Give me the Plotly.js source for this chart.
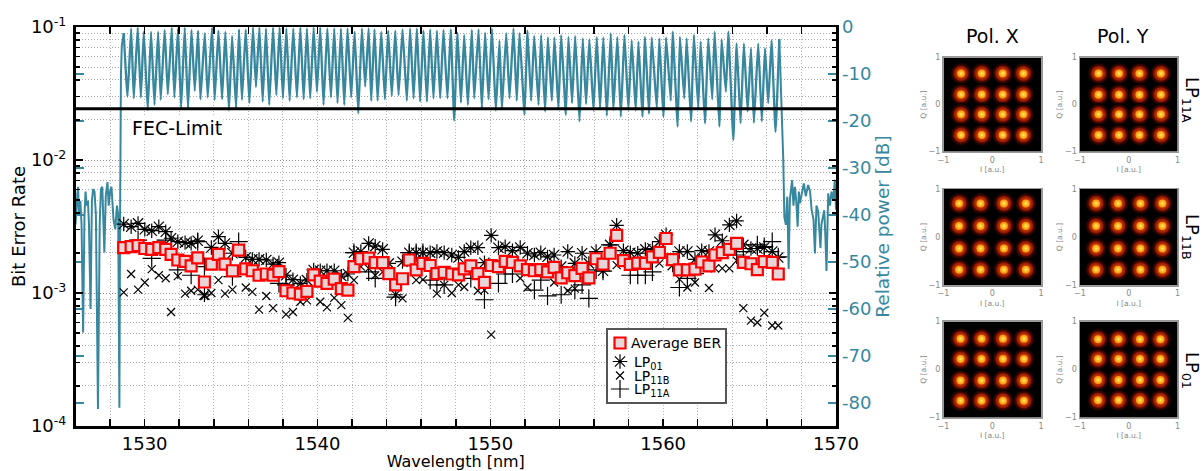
<!DOCTYPE html>
<html><head><meta charset="utf-8">
<script src="https://cdn.plot.ly/plotly-3.0.1.min.js"></script>
<style>html,body{margin:0;padding:0;background:#fff}</style></head>
<body><div id="chart" style="width:1204px;height:471px"></div>
<script>
const noiseLeftWl=[1526.0,1526.05,1526.1,1526.15,1526.2,1526.28,1526.35,1526.44,1526.52,1526.58,1526.65,1526.72,1526.78,1526.87,1526.95,1527.02,1527.1,1527.18,1527.3,1527.4,1527.47,1527.55,1527.67,1527.75,1527.85,1527.92,1528.0,1528.08,1528.2,1528.3,1528.4,1528.47,1528.54,1528.58,1528.6,1528.63,1528.68,1528.79];
const noiseLeftDb=[-42,-38,-36,-34,-40,-37,-42,-65,-40,-35,-38,-37,-42,-60,-37,-34.5,-35,-40,-81.3,-42,-34.5,-34,-48,-36,-33,-38,-35,-34,-41,-43,-38,-40,-81,-40,-20,-10,-4,-1.3];
const combWl=[1528.79,1529.01,1529.22,1529.37,1529.60,1529.78,1529.95,1530.18,1530.37,1530.57,1530.78,1530.93,1531.16,1531.34,1531.57,1531.72,1531.93,1532.11,1532.32,1532.51,1532.71,1532.90,1533.09,1533.23,1533.48,1533.65,1533.90,1534.05,1534.27,1534.48,1534.67,1534.88,1535.06,1535.29,1535.46,1535.63,1535.85,1536.06,1536.27,1536.44,1536.64,1536.83,1537.02,1537.21,1537.43,1537.62,1537.81,1538.00,1538.20,1538.39,1538.60,1538.81,1539.01,1539.20,1539.39,1539.58,1539.78,1539.97,1540.16,1540.35,1540.57,1540.78,1540.97,1541.16,1541.36,1541.55,1541.74,1541.95,1542.15,1542.36,1542.57,1542.76,1542.96,1543.11,1543.30,1543.48,1543.69,1543.90,1544.09,1544.30,1544.50,1544.69,1544.92,1545.17,1545.36,1545.56,1545.75,1545.94,1546.13,1546.33,1546.52,1546.71,1546.91,1547.10,1547.29,1547.52,1547.71,1547.91,
1548.10,1548.30,1548.49,1548.70,1548.93,1549.07,1549.32,1549.51,1549.70,1549.90,1550.09,1550.32,1550.53,1550.67,1550.92,1551.11,1551.34,1551.53,1551.69,1551.98,1552.15,1552.36,1552.54,1552.79,1552.94,1553.17,1553.33,1553.56,1553.71,1553.94,1554.10,1554.37,1554.52,1554.73,1554.91,1555.16,1555.35,1555.54,1555.73,1555.97,1556.16,1556.35,1556.54,1556.74,1556.97,1557.12,1557.35,1557.55,1557.76,1557.99,1558.18,1558.41,1558.57,1558.80,1558.95,1559.18,1559.34,1559.63,1559.78,1560.01,1560.17,1560.44,1560.55,1560.84,1560.97,1561.22,1561.36,1561.61,1561.78,1562.03,1562.17,1562.42,1562.61,1562.84,1562.98,1563.25,1563.38,1563.63,1563.77,1564.06,1564.25,1564.48,1564.67,1564.89,1565.08,1565.25,1565.50,1565.71,1565.89,1566.08,1566.27,1566.50,1566.72];
const combDb=[-1.3,-14.8,-0.3,-15.2,-0.1,-15.0,-1.0,-17.7,-1.0,-16.6,-1.0,-15.5,-0.6,-14.3,-0.1,-15.0,-0.3,-17.4,-0.1,-17.4,-0.6,-13.6,-0.8,-15.4,-1.3,-15.0,-0.1,-15.5,-0.8,-15.4,-1.0,-17.8,-1.9,-17.3,-0.5,-15.5,-0.5,-16.2,-0.1,-12.8,-0.1,-15.9,-0.3,-16.6,-0.1,-14.5,-0.1,-15.2,-0.3,-15.7,-0.3,-15.0,-0.1,-15.4,-0.3,-15.2,-0.1,-13.8,-0.1,-16.6,-0.3,-15.0,-0.3,-16.2,-0.3,-16.6,-0.3,-15.0,-1.0,-18.4,-0.3,-12.7,-0.3,-15.7,-0.5,-15.7,-1.0,-15.4,-0.8,-14.7,-0.8,-14.5,-0.5,-15.7,-0.3,-15.2,-0.3,-15.9,-0.8,-15.9,-0.5,-15.2,-0.8,-15.2,-0.6,-15.2,-0.5,-19.9,
-1.2,-16.1,-1.7,-16.6,-0.6,-15.2,-0.5,-17.3,-1.2,-15.4,-0.3,-17.8,-2.9,-17.5,-1.3,-15.2,-0.3,-15.7,-1.3,-18.7,-0.8,-15.7,-1.9,-16.6,-1.7,-18.0,-2.2,-15.7,-2.2,-17.5,-1.7,-18.7,-2.1,-16.2,-1.9,-20.1,-2.4,-16.4,-2.6,-17.8,-2.1,-17.3,-2.2,-18.9,-1.3,-17.7,-2.1,-19.1,-1.7,-17.7,-2.8,-17.8,-3.1,-19.1,-2.1,-18.5,-2.2,-17.3,-2.4,-19.1,-2.2,-15.7,-1.0,-21.2,-2.1,-15.2,-2.4,-20.1,-1.7,-17.3,-3.1,-20.5,-2.4,-15.4,-1.0,-21.2,-2.6,-13.8,-1.0,-24.0,-3.5,-20.5,-3.5,-18.0,-4.5,-20.4,-3.5,-20.1,-4.5,-16.2,-2.8,-22.3,-2.6];
const noiseRightWl=[1566.72,1566.85,1566.95,1567.01,1567.10,1567.18,1567.26,1567.33,1567.46,1567.54,1567.62,1567.7,1567.78,1567.85,1567.91,1568.02,1568.14,1568.25,1568.39,1568.5,1568.59,1568.7,1568.78,1568.87,1568.97,1569.05,1569.1,1569.16,1569.32,1569.38,1569.45,1569.55,1569.65,1569.74,1569.85,1569.93,1570.0];
const noiseRightDb=[-2.6,-17.7,-28.3,-40.4,-42.1,-36.1,-51.5,-36.8,-32.6,-38,-34,-37,-42.5,-35,-37.5,-35.5,-33.3,-36,-33.6,-35,-38.9,-41,-48.2,-38,-39.3,-44,-47,-42,-39,-44,-51.9,-35.4,-38,-35,-37,-32.5,-38.9];
const berWl=[1528.79,1529.22,1529.62,1530.01,1530.41,1530.82,1531.22,1531.53,1531.92,1532.34,1532.69,1533.07,1533.46,1533.86,1534.27,1534.65,1535.08,1535.44,1535.85,1536.23,1536.62,1537.04,1537.43,1537.77,1538.18,1538.58,1539.01,1539.39,1539.78,1540.16,1540.55,1540.97,1541.38,1541.76,1542.11,1542.51,1542.96,1543.34,1543.77,1544.13,1544.52,1544.92,1545.31,1545.71,1546.10,1546.52,1546.91,1547.33,1547.77,1548.16,
1548.49,1548.87,1549.28,1549.66,1550.05,1550.47,1550.86,1551.28,1551.73,1552.15,1552.55,1552.92,1553.31,1553.69,1554.10,1554.48,1554.89,1555.31,1555.70,1556.12,1556.52,1556.93,1557.31,1557.70,1558.10,1558.53,1558.97,1559.38,1559.78,1560.17,1560.55,1560.94,1561.40,1561.84,1562.23,1562.65,1563.00,1563.42,1563.83,1564.25,1564.64,1565.08,1565.45,1565.85,1566.31,1566.66];
const berAvg=[2.19,2.23,2.27,2.16,2.13,2.19,2.13,1.95,1.77,1.73,1.60,1.84,1.21,1.65,1.95,1.65,1.47,2.10,1.52,1.47,1.36,1.39,1.36,1.45,1.04,1.00,0.98,1.03,1.37,1.23,1.18,1.27,1.08,1.05,1.58,1.81,1.83,1.69,1.69,1.40,1.15,1.28,1.77,1.49,1.67,1.61,1.40,1.43,1.39,1.37,
1.52,1.60,1.40,1.20,1.61,1.58,1.73,1.70,1.60,1.50,1.47,1.50,1.44,1.56,1.30,1.42,1.35,1.53,1.30,1.81,1.65,1.99,2.71,1.75,1.64,1.68,1.67,1.87,2.02,2.57,1.78,1.49,1.49,1.51,1.71,1.60,1.93,2.01,2.13,2.36,1.70,1.66,1.50,1.72,1.70,1.39];
const berLP01=[3.30,3.15,3.34,3.01,2.94,3.15,2.89,2.58,2.43,2.39,2.36,2.47,0.97,2.20,2.65,2.36,1.99,2.10,1.85,1.79,1.79,1.77,1.65,1.69,1.36,1.26,1.18,1.25,1.49,1.47,1.47,1.47,1.34,1.39,2.01,2.05,2.36,2.25,2.13,1.67,0.97,1.72,2.01,2.01,2.01,2.01,2.05,2.01,1.93,1.85,
2.05,2.19,2.19,1.69,2.71,2.19,2.23,2.08,2.20,1.99,1.93,2.01,1.87,1.93,1.58,2.05,1.67,1.99,1.67,2.05,1.47,2.30,3.23,2.08,2.01,1.99,2.13,2.16,2.43,2.74,1.62,2.05,2.05,1.79,2.08,2.05,2.74,2.47,3.25,3.48,2.30,2.16,2.16,2.20,2.05,1.85];
const berLP11B=[1.01,1.39,1.06,1.20,1.51,1.36,1.29,0.72,1.34,0.99,1.04,1.06,0.95,1.00,1.25,0.99,1.06,null,1.10,1.02,0.75,0.95,0.77,null,0.69,0.72,0.86,0.88,null,0.86,0.78,0.92,0.81,0.65,1.25,1.58,1.53,1.36,1.44,null,null,0.91,null,1.25,1.26,null,0.99,1.15,1.00,1.15,
1.11,null,1.04,1.05,0.486,1.62,null,null,1.29,1.10,null,null,null,1.20,null,1.04,1.08,null,null,null,null,null,1.62,null,null,null,null,null,1.67,null,null,1.27,1.10,1.20,null,1.09,1.53,1.53,1.53,1.75,0.77,0.62,0.60,0.71,0.57,0.57];
const berLP11A=[null,null,2.50,null,1.82,null,2.50,null,1.49,null,1.36,2.43,1.58,null,null,null,1.33,2.43,null,null,null,null,null,1.18,1.15,null,null,null,null,null,null,null,null,null,2.01,null,1.44,1.29,null,null,0.93,null,2.01,2.01,2.01,1.25,1.15,1.15,null,null,
null,1.29,null,0.89,null,1.18,1.39,1.39,null,null,1.05,1.25,0.95,null,0.97,null,1.05,1.15,0.91,1.49,1.46,2.30,null,null,1.36,1.36,1.36,1.44,null,null,null,1.10,1.29,1.40,null,null,null,null,null,1.93,2.05,null,2.30,2.23,2.43,1.87];
const fecLimit=[0.0243,0.0243];
const fecWl=[1526,1570];
const wlTicks=[1526,1528,1530,1532,1534,1536,1538,1540,1542,1544,1546,1548,1550,1552,1554,1556,1558,1560,1562,1564,1566,1568,1570];
const wlLabels=['','','1530','','','','','1540','','','','','1550','','','','','1560','','','','','1570'];
const berTicks=[1e-4,1e-3,1e-2,1e-1];
const berLabels=['10<sup>-4</sup>','10<sup>-3</sup>','10<sup>-2</sup>','10<sup>-1</sup>'];
const berMinor=[2e-4,3e-4,4e-4,5e-4,6e-4,7e-4,8e-4,9e-4,2e-3,3e-3,4e-3,5e-3,6e-3,7e-3,8e-3,9e-3,2e-2,3e-2,4e-2,5e-2,6e-2,7e-2,8e-2,9e-2];
const powerTicks=[0,-10,-20,-30,-40,-50,-60,-70,-80];
const powerLabels=['0','-10','-20','-30','-40','-50','-60','-70','-80'];
const panelI=[[-0.64,-0.215,0.215,0.64],[-0.62,-0.2,0.22,0.66],[-0.68,-0.24,0.24,0.69],[-0.67,-0.22,0.24,0.69],[-0.65,-0.22,0.22,0.65],[-0.63,-0.21,0.23,0.65]];
const panelQ=[[0.66,0.215,-0.21,-0.65],[0.66,0.21,-0.21,-0.65],[0.7,0.23,-0.24,-0.68],[0.7,0.23,-0.24,-0.68],[0.64,0.22,-0.23,-0.65],[0.63,0.22,-0.22,-0.64]];
const panelNames=['Pol. X','Pol. Y'];
const rowNames=['LP<sub>11A</sub>','LP<sub>11B</sub>','LP<sub>01</sub>'];

const W=1204,H=471;
const teal='#37879f';
const px=(a,b)=>[a/W,b/W], py=(t,b)=>[1-b/H,1-t/H];
const scale=berArr=>berArr.map(v=>v===null?null:v*1e-3);

const traces=[
 {x:noiseLeftWl,y:noiseLeftDb,xaxis:'x',yaxis:'y',mode:'lines',line:{color:teal,width:2},showlegend:false,hoverinfo:'skip'},
 {x:combWl,y:combDb,xaxis:'x',yaxis:'y',mode:'lines',line:{color:teal,width:2.3,shape:'spline',smoothing:0.35},showlegend:false,hoverinfo:'skip'},
 {x:noiseRightWl,y:noiseRightDb,xaxis:'x',yaxis:'y',mode:'lines',line:{color:teal,width:2},showlegend:false,hoverinfo:'skip'},
 {x:fecWl,y:fecLimit,xaxis:'x',yaxis:'y2',mode:'lines',line:{color:'#000',width:3},showlegend:false,hoverinfo:'skip'},
 {x:berWl,y:scale(berLP11A),xaxis:'x',yaxis:'y2',mode:'markers',name:'LP<sub>11A</sub>',legendrank:4,
  marker:{symbol:'cross-thin-open',size:13,color:'#000',line:{color:'#000',width:1.2}}},
 {x:berWl,y:scale(berLP11B),xaxis:'x',yaxis:'y2',mode:'markers',name:'LP<sub>11B</sub>',legendrank:3,
  marker:{symbol:'x-thin-open',size:8,color:'#000',line:{color:'#000',width:1.2}}},
 {x:berWl,y:scale(berLP01),xaxis:'x',yaxis:'y2',mode:'markers',name:'LP<sub>01</sub>',legendrank:2,
  marker:{symbol:'asterisk-open',size:12,color:'#000',line:{color:'#000',width:1.2}}},
 {x:berWl,y:scale(berAvg),xaxis:'x',yaxis:'y2',mode:'markers',name:'Average BER',legendrank:1,
  marker:{symbol:'square',size:11,color:'#e8d5d8',line:{color:'#ff0000',width:2.2}}}
];

const layout={
 width:W,height:H,margin:{l:0,r:0,t:0,b:0},paper_bgcolor:'#fff',plot_bgcolor:'#fff',
 font:{family:'DejaVu Sans',color:'#000'},
 xaxis:{domain:px(75.5,836),range:[1526,1570],tickmode:'array',tickvals:wlTicks,ticktext:wlLabels,ticks:'inside',ticklen:7,tickwidth:1.5,tickcolor:'#000',
  showline:true,linecolor:'#000',linewidth:2.5,mirror:'ticks',showgrid:true,gridcolor:'#b5b5b5',griddash:'1px,2px',gridwidth:1,zeroline:false,tickangle:0,
  tickfont:{size:18},title:{text:'Wavelength [nm]',font:{size:16},standoff:2}},
 yaxis:{domain:py(27,426),range:[-84.9,0],side:'right',anchor:'x',tickmode:'array',tickvals:powerTicks,ticktext:powerLabels,ticks:'inside',ticklen:8,tickwidth:1.5,tickcolor:teal,
  showline:true,linecolor:'#000',linewidth:2.5,mirror:'ticks',showgrid:false,zeroline:false,tickfont:{size:18,color:teal},
  title:{text:'Relative power [dB]',font:{size:18.5,color:teal},standoff:4}},
 yaxis2:{domain:py(27,426),type:'log',range:[-4,-1],overlaying:'y',side:'left',anchor:'x',tickmode:'array',tickvals:berTicks,ticktext:berLabels,ticks:'inside',ticklen:7,tickwidth:1.5,tickcolor:'#000',ticklabelstandoff:3,
  showline:true,linecolor:'#000',linewidth:2.5,mirror:'ticks',showgrid:true,gridcolor:'#909090',griddash:'1px,2px',zeroline:false,tickfont:{size:18},
  minor:{tickmode:'array',tickvals:berMinor,ticks:'inside',ticklen:4,tickcolor:'#000',showgrid:true,gridcolor:'#ababab',griddash:'1px,2px',gridwidth:1},
  title:{text:'Bit Error Rate',font:{size:18},standoff:1}},
 legend:{x:606/W,y:1-328/H,xanchor:'left',yanchor:'top',bgcolor:'#fff',bordercolor:'#555',borderwidth:1.5,font:{size:14},tracegroupgap:0,itemwidth:30,traceorder:'normal'},
 annotations:[{xref:'paper',yref:'paper',x:177/W,y:1-128/H,xanchor:'center',yanchor:'middle',text:'FEC-Limit',showarrow:false,font:{size:19},bgcolor:'#fff',borderpad:1}],
 shapes:[]
};

const cols=[[943.5,1041],[1080,1177.5]];
const rows=[[57.5,151.5],[189,285],[321.5,417.5]];
let n=3;
rows.forEach((r,ri)=>{
 cols.forEach((c,ci)=>{
  const xn='xaxis'+n, yn='yaxis'+n, xi='x'+n, yi='y'+n, k=ri*2+ci;
  const base={range:[-1,1],tickmode:'array',tickvals:[-1,0,1],ticks:'',showgrid:false,zeroline:false,showline:true,linecolor:'#999',linewidth:1.5,mirror:true,tickfont:{size:8,color:'#888'}};
  layout[xn]=Object.assign({},base,{domain:px(c[0],c[1]),anchor:yi,title:{text:'I [a.u.]',font:{size:7.5,color:'#888'},standoff:3}});
  layout[yn]=Object.assign({},base,{domain:py(r[0],r[1]),anchor:xi,title:{text:'Q [a.u.]',font:{size:7.5,color:'#888'},standoff:1}});
  layout.shapes.push({type:'rect',xref:xi+' domain',yref:yi+' domain',x0:0,x1:1,y0:0,y1:1,fillcolor:'#000',line:{width:0},layer:'below'});
  const xs=[],ys=[];
  panelQ[k].forEach(q=>panelI[k].forEach((_,j)=>{xs.push(panelI[k][j]);ys.push(q);}));
  // marker.color is the rim of a radial gradient, gradient.color its centre
  [[22,'#000000','#ff2000'],[15,'#8a1000','#ff7000'],[8,'#ff8a00','#fff060']].forEach(m=>{
   traces.push({x:xs,y:ys,xaxis:xi,yaxis:yi,mode:'markers',showlegend:false,hoverinfo:'skip',
    marker:{size:m[0],color:m[1],gradient:{type:'radial',color:m[2]},line:{width:0}}});
  });
  n++;
 });
 layout.annotations.push({xref:'paper',yref:'paper',x:1191/W,y:1-[100,237,370][ri]/H,xanchor:'center',yanchor:'middle',text:rowNames[ri],textangle:90,showarrow:false,font:{size:18}});
});
panelNames.forEach((t,i)=>layout.annotations.push({xref:'paper',yref:'paper',x:[992,1123][i]/W,y:1-36.5/H,xanchor:'center',yanchor:'middle',text:t,showarrow:false,font:{size:19}}));
Plotly.newPlot('chart',traces,layout,{displayModeBar:false,staticPlot:true}).then(()=>{
 // compact the legend to the reference's box: 119 x 74 with tight rows
 const lg=document.querySelector('.legend');
 const rowsY=[15,33.5,47.5,61];
 lg.querySelectorAll('.traces').forEach((t,i)=>{
  t.setAttribute('transform','translate(0,'+rowsY[i]+')');
  const tx=t.querySelector('.legendtext'), lx=i===0?25:28; tx.setAttribute('x',lx);
  tx.querySelectorAll('tspan[x]').forEach(s=>s.setAttribute('x',lx));
  const p=t.querySelector('.legendpoints'); if(p)p.setAttribute('transform','translate(-6,0)');
 });
 const bg=lg.querySelector('.bg'); bg.setAttribute('width',119); bg.setAttribute('height',74);
});
</script></body></html>
